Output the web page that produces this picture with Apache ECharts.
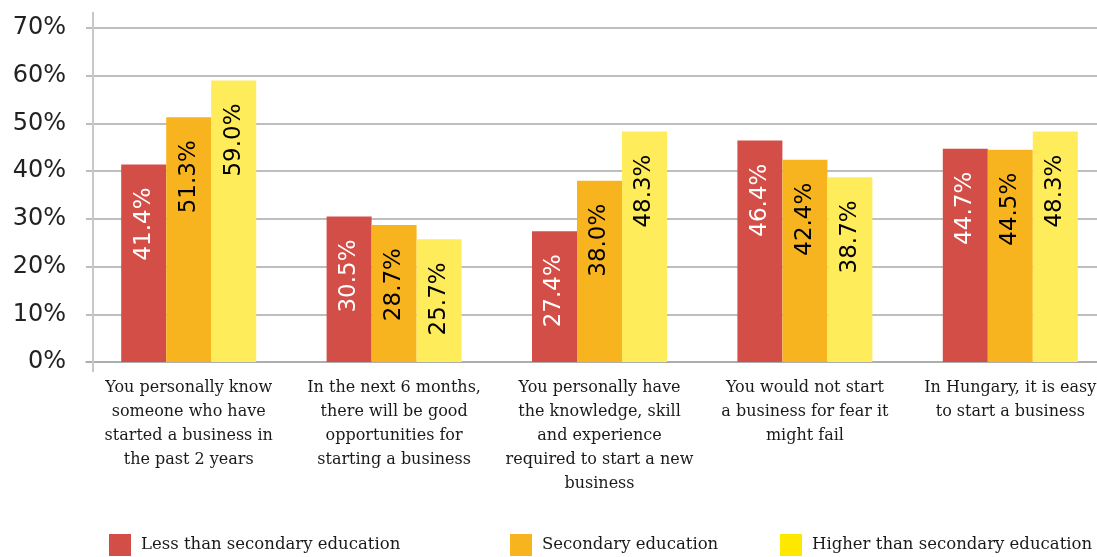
<!DOCTYPE html>
<html>
<head>
<meta charset="utf-8">
<script src="https://cdn.jsdelivr.net/npm/echarts@6/dist/echarts.min.js"></script>
<style>
  html, body { margin: 0; padding: 0; background: #ffffff; }
  #chart { width: 1097px; height: 557px; }
</style>
</head>
<body>
<div id="chart"></div>
<script>
// Survey statements (x axis), line breaks as printed under each group
const categories = [
  'You personally know\nsomeone who have\nstarted a business in\nthe past 2 years',
  'In the next 6 months,\nthere will be good\nopportunities for\nstarting a business',
  'You personally have\nthe knowledge, skill\nand experience\nrequired to start a new\nbusiness',
  'You would not start\na business for fear it\nmight fail',
  'In Hungary, it is easy\nto start a business'
];

// Share agreeing, by education level (%)
const lessThanSecondary = [41.4, 30.5, 27.4, 46.4, 44.7];
const secondary = [51.3, 28.7, 38.0, 42.4, 44.5];
const higherThanSecondary = [59.0, 25.7, 48.3, 38.7, 48.3];

const seriesNames = [
  'Less than secondary education',
  'Secondary education',
  'Higher than secondary education'
];

const barColors = ['#D34E46', '#F8B41E', '#FEEC5B'];
const legendColors = ['#D34E46', '#F8B41E', '#FFE800'];
const labelColors = ['#ffffff', '#000000', '#000000'];
const legendLeft = [104, 505, 775];

const serifFont = '"DejaVu Serif", serif';
const sansFont = '"DejaVu Sans", sans-serif';

const chart = echarts.init(document.getElementById('chart'));

function barSeries(name, data, i) {
  return {
    name: name,
    type: 'bar',
    data: data,
    barWidth: 45,
    barGap: '0%',
    itemStyle: { color: barColors[i] },
    label: {
      show: true,
      position: 'insideTop',
      rotate: 90,
      align: 'right',
      verticalAlign: 'middle',
      distance: 23,
      color: labelColors[i],
      fontFamily: sansFont,
      fontSize: 23,
      formatter: p => p.value.toFixed(1) + '%'
    }
  };
}

chart.setOption({
  animation: false,
  backgroundColor: '#ffffff',
  // the plot runs a little past the right edge, so its last band is cut off
  grid: { left: 86, top: 28, right: -16, bottom: 195, containLabel: false, outerBoundsMode: 'none' },
  legend: seriesNames.map((n, i) => ({
    left: legendLeft[i],
    top: 529,
    itemWidth: 22,
    itemHeight: 22,
    itemGap: 0,
    icon: 'rect',
    data: [{ name: n, itemStyle: { color: legendColors[i] } }],
    textStyle: { fontFamily: serifFont, fontSize: 16.5, color: '#1a1a1a', padding: [0, 0, 0, 5] }
  })),
  xAxis: {
    type: 'category',
    data: categories,
    axisLine: { show: true, lineStyle: { color: '#a8a8a8', width: 1.5 } },
    axisTick: { show: false },
    axisLabel: {
      interval: 0,
      margin: 14,
      fontFamily: serifFont,
      fontSize: 16,
      lineHeight: 24,
      color: '#1a1a1a',
      align: 'center'
    }
  },
  yAxis: {
    type: 'value',
    min: 0,
    max: 70,
    interval: 10,
    offset: -7,
    axisLine: { show: false },
    axisTick: { show: false },
    splitLine: { show: true, lineStyle: { color: '#a8a8a8', width: 1.5 } },
    axisLabel: {
      margin: 27,
      fontFamily: sansFont,
      fontSize: 24,
      color: '#222222',
      formatter: v => v + '%'
    }
  },
  series: [
    barSeries(seriesNames[0], lessThanSecondary, 0),
    barSeries(seriesNames[1], secondary, 1),
    barSeries(seriesNames[2], higherThanSecondary, 2)
  ]
});

// Vertical value-axis rule, running a little past the top and bottom gridlines
const yBottom = chart.convertToPixel({ yAxisIndex: 0 }, 0);
const yTop = chart.convertToPixel({ yAxisIndex: 0 }, 70);
const axisX = 86 + 7;
chart.setOption({
  graphic: [{
    type: 'line',
    silent: true,
    z: 1,
    shape: { x1: axisX, y1: yTop - 16, x2: axisX, y2: yBottom + 10 },
    style: { stroke: '#c8c8c8', lineWidth: 2 }
  }]
});
</script>
</body>
</html>
